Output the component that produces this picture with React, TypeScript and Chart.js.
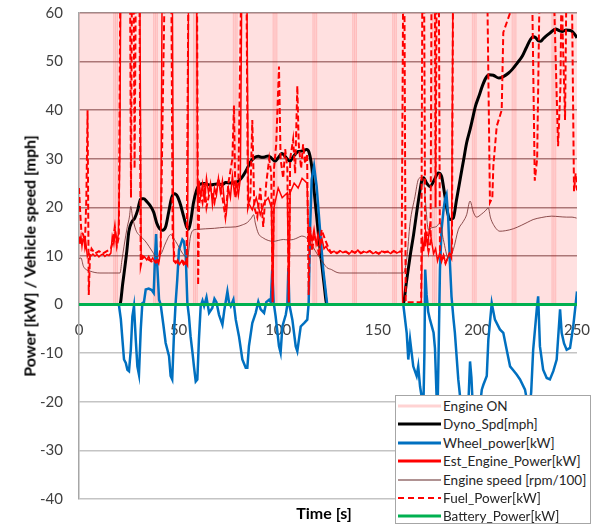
import React, { useEffect, useRef } from "react";
import { Chart, registerables } from "chart.js";

Chart.register(...registerables);

// Engine state blocks (20 s buckets), value = top of the plot when the engine runs
const engineOnTime = [8.4, 28.4, 48.4, 68.4, 88.4, 108.4, 128.4, 148.4, 168.4, 188.4, 208.4, 228.4, 248.4];
const engineOn = [60, 60, 60, 60, 60, 60, 60, 60, 60, 60, 60, 60, 60];

// [time s, mph]
const dynoSpd: [number, number][] = [
  [0, 0], [20.5, 0], [22, 4.5], [24, 11], [25, 15], [26.5, 17], [28, 17.8], [29.5, 19.5], [31, 21.8], [32.5, 21.8],
  [34, 21.2], [36, 20.2], [37.5, 19], [39, 16.8], [40.5, 15.6], [42, 15.3], [43.5, 16], [45, 19], [46.5, 22], [48, 22.8],
  [49.5, 22.2], [51, 20.5], [52.5, 18.2], [54, 16], [55, 15.5], [56, 17], [57.5, 21], [59, 23.5], [60.5, 24.7], [63, 24.9],
  [66, 24.6], [69, 24.8], [72, 24.7], [73.6, 25.1], [76, 25], [78.6, 25.1], [80.8, 25.7], [82.5, 26.6], [84.2, 27.8], [86, 29.3],
  [88, 30.2], [90, 30.5], [92, 30.3], [93.4, 30.4], [95, 30.6], [96.5, 30.2], [98.4, 29.5], [100, 30.2], [101.8, 31.1], [103.5, 30.5],
  [105.9, 29.5], [107.5, 30.4], [110, 31.5], [112, 31.6], [114.3, 31.9], [115.5, 31.3], [116.8, 28.5], [118, 23.5], [119.3, 18.2], [120.5, 13.3],
  [121.8, 8.6], [123, 4.3], [124.5, 0], [162.6, 0], [164.5, 5], [166.2, 9.9], [168, 14.5], [169.5, 18.9], [171, 23], [172.2, 25.7],
  [173, 26.1], [174.5, 25], [176.2, 24.3], [178.3, 25.6], [180.4, 27.1], [182, 26.4], [183.7, 22.3], [185, 19], [186.2, 17.5], [187.9, 17.8],
  [189.5, 21.5], [191.3, 25.7], [193, 29.6], [194.6, 33.3], [196.3, 36], [197.5, 38.1], [199, 40.8], [200.8, 42.9], [202.5, 45], [204.2, 46.6],
  [205.8, 47.3], [208, 47.2], [210.8, 46.6], [213.4, 47], [215.5, 47.6], [217.5, 48.4], [220, 49.7], [222.5, 51.1], [224.5, 52.8], [226.7, 54.6],
  [228, 55.1], [229.3, 54.9], [230.5, 54.3], [231.8, 54.2], [233, 54.7], [234.3, 55.2], [236.5, 55.9], [239.3, 56.7], [241, 56.4], [242.6, 56.2],
  [244.5, 56.5], [246.8, 56.4], [248.5, 55.8], [250, 54.9],
];

// [time s, kW]
const wheelPower: [number, number][] = [
  [0, 0], [20, 0], [21, -3], [21.8, -7.2], [22.6, -11.3], [23.5, -12], [24.3, -13.4], [25.1, -13.7], [26, -9.3], [26.8, -2.4],
  [27.6, -0.3], [28.5, -7.2], [29.3, -12.7], [30.1, -14.4], [31, -5.1], [31.8, 0.3], [32.6, 0.5], [33.5, 3.1], [35, 3.3], [36.5, 3],
  [37.5, 2.4], [38.2, 10], [38.7, 14.5], [39.3, 8], [40.2, 1], [41, 0], [42.3, -4], [43.5, -7.9], [45.2, -10.6], [46, -14.7],
  [46.8, -15.4], [47.7, -5.8], [48.5, 0.3], [49.3, 5], [50.2, 11.3], [51.9, 13.4], [52.7, 13], [53.6, 9.9], [54.4, 0.3], [55.2, -2.4],
  [56, -6.5], [57, -10], [57.7, -12.7], [58.6, -15.8], [59.4, -15.4], [60.2, -7.2], [61.1, -0.3], [62, 0.8], [62.8, -0.3], [64, 1.5],
  [65.3, -1.7], [66.9, -0.7], [68, 1.2], [69, 0.5], [70.3, -2.1], [72, -4.1], [73, -1], [74.5, 2.7], [75.3, 0.5], [76.2, -0.3],
  [77.5, 1], [78.7, -3.1], [80.3, -6.5], [82, -11.3], [83.7, -13], [84.5, -13], [85.3, -8.6], [87, -3.8], [88.7, -1.7], [90, 0.6],
  [91.2, -1], [92.9, -1.7], [94, 0.5], [95.4, 1], [96.3, 0.5], [97, 7.2], [97.7, 0.5], [98.7, -2.4], [100.4, -8.6], [101.2, -9.9],
  [102.1, -4.5], [103.8, -2.1], [104.6, 0], [105.1, 7.5], [105.6, 0], [107.1, -3.1], [108.8, -8.6], [109.6, -9.6], [111.3, -4.5], [113, -3.8],
  [114.6, -3.1], [115.3, 0.3], [116, 15.4], [116.8, 25.7], [118, 28.5], [119.3, 24.3], [121, 15.4], [122.6, 7.2], [124.6, 0], [162.8, 0],
  [164.5, -5.8], [165.3, -11.3], [166.2, -7.2], [167.8, -12.7], [169.5, -14.7], [170.3, -12.7], [171.2, -16.8], [172, -18.9], [172.8, -23], [173.4, -10],
  [173.8, 7.2], [174.5, 2], [175.3, -1.5], [176.2, -3.1], [178, -5.8], [178.7, -9], [179.5, -18.9], [180, -22], [180.6, -8], [181.2, 7.2],
  [182, 15.4], [183, 19.5], [183.7, 21.6], [184.5, 22.6], [185.3, 18.2], [186.2, 8.6], [187, 1.7], [188, -3], [188.7, -5.8], [190.4, -15.4],
  [191.3, -18.9], [192.5, -23], [194, -25], [195.5, -20], [196.3, -11.7], [197, -15], [197.8, -22], [199.5, -26], [201, -22], [202.2, -17.5],
  [203, -16.5], [204.7, -14.7], [205.5, -7.2], [207.2, 0.3], [208.8, -3.1], [211.3, -5.1], [213, -5.8], [214.7, -9.3], [216.4, -12.7], [218, -13.5],
  [219.7, -14.4], [221.4, -15.4], [223.9, -17.5], [225, -20], [226, -22], [227, -18], [228, -9.3], [229.8, -1], [230.5, 1.7], [231.4, -8.6],
  [233, -13.4], [234.8, -15.1], [236.4, -15.4], [238.1, -13.7], [239.8, -11.3], [241, -4], [241.5, -1], [242.3, -5.8], [243.5, -8], [244.8, -9.3],
  [246.5, -8.9], [248.1, -4.5], [249.3, 0], [250, 2.7],
];

// [time s, kW]
const estEnginePower: [number, number][] = [
  [0, 14], [0.5, 12.5], [1, 14], [1.5, 12], [2, 13.5], [2.5, 13.4], [3, 11.5], [3.5, 12.5], [4.2, 9.9], [5, 10.5],
  [6, 10], [7, 10.4], [8, 10], [9, 10.3], [10, 9.8], [11, 10.2], [12, 10.4], [13, 9.9], [14, 10.3], [15, 10.1],
  [16, 10.6], [16.7, 14], [17.5, 12.5], [18.2, 15], [19, 13], [19.8, 14.5], [20.5, 30], [21, 70], [30.5, 70], [31.2, 10],
  [32, 9.5], [33, 9.8], [34, 9.2], [35, 9.9], [36, 9], [37, 9.6], [38, 8.8], [39, 9.2], [40, 8.4], [41, 11],
  [41.8, 70], [46.8, 70], [47.5, 9], [48.5, 8.5], [49.5, 9.2], [50.5, 8.3], [51.5, 9], [52.5, 8.2], [53.5, 8.8], [54.5, 8],
  [55, 70], [59, 70], [59.6, 20], [60.3, 25.5], [61, 22], [62, 24.8], [63, 21], [64, 26], [65, 23], [66, 25],
  [67, 20.5], [68, 24], [69, 22.5], [70, 26], [71, 23], [72, 25.5], [73, 21], [74, 19], [75, 24], [76, 22],
  [77, 26.5], [78, 23], [79, 25], [80, 22.5], [81, 26], [81.8, 70], [84.2, 70], [85, 21], [87, 19.5], [89, 22],
  [91, 18.5], [93, 21], [95, 22], [96.6, 20], [97.2, 0.5], [97.9, 20], [100, 24], [102, 22], [104.6, 23], [105.3, 0.5],
  [106, 23], [108, 25], [110, 24], [112, 26], [114.5, 25], [115.3, 12], [116.2, 15],
  [117, 13], [118, 15.5], [119, 12.5], [120, 14.5], [121, 12], [122, 13.5], [123, 11.5], [124, 12], [125, 11.2], [126.5, 10.6],
  [128, 11], [129.5, 10.5], [131, 11.1], [132.5, 10.7], [134, 10.9], [135.5, 10.4], [137, 11], [138.5, 10.6], [140, 11.2], [141.5, 10.5],
  [143, 10.9], [144.5, 10.7], [146, 11.1], [147.5, 10.5], [149, 10.8], [150.5, 10.4], [152, 11], [153.5, 10.7], [155, 10.9], [156.5, 10.5],
  [158, 11.1], [159.5, 10.6], [161, 10.9], [162, 10.8], [162.5, 0], [171.8, 0], [172.4, 14], [173, 11], [174, 15], [175, 12],
  [176, 16], [177, 13], [178, 10.5], [179, 11.5], [180, 9], [181, 10.5], [182, 8.8], [183, 10.2], [184, 8.5], [185, 9.6],
  [186, 10.5], [187, 9.5], [187.8, 70], [250, 70],
];

// [time s, rpm/100]
const engineSpeed: [number, number][] = [
  [0, 9.5], [1, 9.6], [2.2, 7.9], [4, 7.1], [5.5, 6.9], [8, 6.6], [10.5, 6.5], [15, 6.5], [20.6, 6.5], [21.5, 9],
  [22.6, 12], [24.3, 16.1], [25.3, 18], [26, 20.2], [26.8, 18.2], [28.5, 15.4], [31, 14], [33, 13.2], [35.1, 12], [37, 10.8],
  [38.5, 9.9], [41, 10.3], [43.5, 12.7], [46, 14.4], [48.5, 13], [50.5, 11.6], [51.9, 10.6], [54.4, 9.6], [56, 14.1], [57.7, 15.4],
  [60, 15.5], [63.6, 15.6], [68, 15.7], [73, 15.9], [78.7, 16], [82, 16.4], [84.5, 16.9], [86.5, 17.8], [87.7, 18.5], [88.5, 16.8],
  [90, 14.7], [92.5, 13.7], [95, 13.2], [97.5, 13], [100, 13.2], [102.6, 13.4], [105, 13.3], [107.6, 13.4], [110, 13.8], [111.8, 14.1],
  [114.3, 13.7], [116.8, 12.3], [119.3, 10.6], [122.6, 8.6], [124.5, 7.6], [126.8, 7.2], [129, 6.7], [131, 6.5], [150, 6.5], [162.8, 6.5],
  [164.5, 9.3], [166.2, 16.8], [168.7, 22.3], [170.3, 25.7], [171.5, 26.1], [172.8, 26], [173.7, 22.3], [175.4, 15.4], [177, 15.8], [179.6, 16.1],
  [181.2, 16.8], [182.9, 13.4], [185.4, 9.6], [187.9, 11.3], [190.4, 15.4], [192.9, 17.1], [194.6, 18.5], [196.3, 21.3], [198, 19], [199.6, 18],
  [202, 18.6], [204, 19.3], [205.5, 19.9], [206.5, 18], [208, 16.5], [211.3, 15.1], [214, 15.2], [218, 15.6], [222, 16.3], [225, 16.9],
  [228, 17.5], [232, 17.9], [237.3, 18.2], [241, 18.1], [244.8, 18], [247.5, 18], [249.8, 17.8],
];

// [time s, kW]
const fuelPower: [number, number][] = [
  [0, 24], [0.6, 19], [1.2, 15], [2, 14.5], [3, 13], [3.7, 22], [4.3, 40], [4.9, 2], [5.5, 10], [6.3, 11.5],
  [8, 10.5], [10, 11], [12, 10.5], [14, 11], [16, 11.5], [17, 13], [18, 16], [19, 12], [20, 14], [20.8, 70],
  [25.6, 70], [26.1, 22], [26.6, 70], [27.4, 70], [27.9, 28], [28.6, 70], [30.3, 70], [31, 8], [32, 10], [34, 9.5],
  [36, 9], [38, 8.5], [40, 9], [41, 12], [42.2, 45], [43.2, 70], [46.3, 70], [47, 15], [48, 9], [50, 8.5],
  [52, 9], [54, 8], [55, 70], [59.2, 70], [59.8, 4], [60.4, 24], [62, 21], [63, 25], [64, 20], [66, 24],
  [68, 21], [70, 26], [72, 22], [73.5, 18], [75, 25], [77, 30], [77.8, 41], [78.5, 22], [80, 25], [81.6, 70],
  [84, 70], [84.8, 20], [86, 22], [87, 38], [88, 20], [89.5, 18], [91, 24], [92.5, 16], [94, 25], [95.5, 30],
  [96.5, 27], [97.2, 0.5], [97.9, 28], [99, 33], [100.4, 49], [101.2, 30], [102.5, 26], [103.5, 32], [104.6, 28], [105.3, 0.5],
  [106, 30], [107.5, 34], [108.5, 27], [109.6, 45], [110.3, 33], [111.5, 28], [112.5, 33], [113.5, 29], [114.5, 31], [115.3, 2],
  [116, 16], [117, 11], [118, 14], [119.3, 13.4], [120.5, 10], [121.8, 15.4], [123.5, 13.4], [125.2, 11.7], [126.5, 10.7], [128, 11],
  [129.5, 10.6], [131, 11], [132.5, 10.8], [134, 10.9], [135.5, 10.5], [137, 11], [138.5, 10.7], [140, 11.1], [141.5, 10.6], [143, 10.9],
  [144.5, 10.8], [146, 11], [147.5, 10.6], [149, 10.8], [150.5, 10.5], [152, 11], [153.5, 10.8], [155, 10.9], [156.5, 10.6], [158, 11],
  [159.5, 10.7], [161, 10.9], [162, 11], [162.8, 70], [163.3, 70], [164, 0.5], [171.8, 0.5], [172.4, 70], [173.2, 70], [173.8, 12],
  [174.5, 15], [175.5, 11], [176.5, 13], [177, 70], [178.6, 70], [179, 20], [179.6, 70], [180.6, 70], [181.2, 11], [182, 9],
  [183, 10], [184, 8.5], [185, 9.5], [186, 10.5], [187.2, 10], [187.8, 70], [204.8, 70], [206.3, 21], [207.5, 22], [208, 28.5],
  [209.7, 36.7], [212.2, 40], [213, 56], [216.4, 60], [217, 70], [227.3, 70], [228.8, 25.5], [230, 30], [231.4, 70], [238, 70],
  [240.5, 32.6], [241.7, 45], [242.3, 70], [242.8, 56], [244, 38], [244.8, 70], [247.3, 70], [248.5, 23.3], [249.3, 27], [250, 23.5],
];

// [time s, kW]
const batteryPower: [number, number][] = [[0, 0], [250, 0]];

const FONT = "Lato, 'Open Sans', sans-serif";

const toPoints = (rows: [number, number][]) => rows.map(([x, y]) => ({ x, y }));

const legendItems = [
  { label: "Engine ON", color: "#ffd3d3", width: 3, dash: "" },
  { label: "Dyno_Spd[mph]", color: "#000000", width: 3, dash: "" },
  { label: "Wheel_power[kW]", color: "#0070c0", width: 3, dash: "" },
  { label: "Est_Engine_Power[kW]", color: "#ff0000", width: 3, dash: "" },
  { label: "Engine speed [rpm/100]", color: "#b09292", width: 2, dash: "" },
  { label: "Fuel_Power[kW]", color: "#ff0000", width: 2, dash: "6 4" },
  { label: "Battery_Power[kW]", color: "#00b050", width: 3, dash: "" },
];

export default function App() {
  const canvasRef = useRef<HTMLCanvasElement | null>(null);

  useEffect(() => {
    const canvas = canvasRef.current;
    if (!canvas) return;
    const chart = new Chart(canvas, {
      type: "line",
      data: {
        datasets: [
          {
            type: "bar",
            label: "Engine ON",
            data: engineOnTime.map((x, i) => ({ x, y: engineOn[i] })),
            backgroundColor: "rgba(255,0,0,0.12)",
            borderColor: "rgba(255,0,0,0.2)",
            borderWidth: { left: 2, right: 2, top: 0, bottom: 0 },
            borderSkipped: false,
            barPercentage: 1,
            categoryPercentage: 1,
            order: 7,
          } as any,
          {
            label: "Dyno_Spd[mph]",
            data: toPoints(dynoSpd),
            borderColor: "#000000",
            borderWidth: 3,
            cubicInterpolationMode: "monotone",
            order: 6,
          },
          {
            label: "Wheel_power[kW]",
            data: toPoints(wheelPower),
            borderColor: "#0070c0",
            borderWidth: 2.5,
            order: 5,
          },
          {
            label: "Est_Engine_Power[kW]",
            data: toPoints(estEnginePower),
            borderColor: "#ff0000",
            borderWidth: 1.5,
            order: 4,
          },
          {
            label: "Engine speed [rpm/100]",
            data: toPoints(engineSpeed),
            borderColor: "rgba(120,50,50,0.85)",
            borderWidth: 1,
            cubicInterpolationMode: "monotone",
            order: 3,
          },
          {
            label: "Fuel_Power[kW]",
            data: toPoints(fuelPower),
            borderColor: "#ff0000",
            borderWidth: 2,
            borderDash: [6, 3],
            order: 2,
          },
          {
            label: "Battery_Power[kW]",
            data: toPoints(batteryPower),
            borderColor: "#00b050",
            borderWidth: 3,
            order: 1,
          },
        ],
      },
      options: {
        responsive: false,
        animation: false,
        layout: { padding: { left: 0, right: 17, top: 13, bottom: 26 } },
        elements: { point: { radius: 0 }, line: { tension: 0 } },
        plugins: { legend: { display: false }, tooltip: { enabled: false } },
        scales: {
          x: {
            type: "linear",
            position: { y: 0 } as any,
            min: 0,
            max: 250,
            offset: false,
            ticks: {
              stepSize: 50,
              padding: 1,
              maxRotation: 0,
              color: "#404040",
              font: { family: FONT, size: 15 },
            },
            grid: { display: false, drawTicks: true, tickLength: 16, tickColor: "rgba(0,0,0,0)" },
            border: { display: false },
          },
          y: {
            type: "linear",
            min: -40,
            max: 60,
            ticks: {
              stepSize: 10,
              padding: 2,
              color: "#404040",
              font: { family: FONT, size: 15 },
            },
            grid: {
              drawTicks: true,
              tickLength: 14,
              tickColor: "rgba(0,0,0,0)",
              lineWidth: 1.5,
              color: (ctx: any) => (ctx.tick && ctx.tick.value > 0 ? "#a08888" : "#c4c4c4"),
            },
            border: { display: true, color: "#a6a6a6", width: 1.5 },
            afterFit: (scale: any) => {
              scale.width = 79;
            },
          },
        },
      },
    });
    return () => chart.destroy();
  }, []);

  return (
    <div style={{ position: "absolute", left: 0, top: 0, width: 594, height: 525, background: "#fff", fontFamily: FONT }}>
      <canvas ref={canvasRef} width={594} height={525} style={{ display: "block" }} />
      <div
        style={{
          position: "absolute",
          left: 29,
          top: 256,
          transform: "translate(-50%, -50%) rotate(-90deg)",
          whiteSpace: "nowrap",
          fontWeight: 700,
          fontSize: 16,
          color: "#000",
        }}
      >
        Power [kW] / Vehicle speed [mph]
      </div>
      <div
        style={{
          position: "absolute",
          left: 324,
          top: 512,
          transform: "translate(-50%, -50%)",
          whiteSpace: "nowrap",
          fontWeight: 700,
          fontSize: 16,
          color: "#000",
        }}
      >
        Time [s]
      </div>
      <div
        style={{
          position: "absolute",
          left: 395,
          top: 395,
          width: 196,
          height: 129,
          boxSizing: "border-box",
          background: "#fff",
          border: "1px solid #a6a6a6",
        }}
      >
        {legendItems.map((item, i) => (
          <div
            key={item.label}
            style={{
              position: "absolute",
              left: 1,
              top: 10 + i * 18.4 - 9,
              height: 18,
              display: "flex",
              alignItems: "center",
              whiteSpace: "nowrap",
              fontSize: 13.5,
              color: "#262626",
            }}
          >
            <svg width={45} height={18} style={{ display: "block" }}>
              <line
                x1={1}
                y1={9}
                x2={44}
                y2={9}
                stroke={item.color}
                strokeWidth={item.width}
                strokeDasharray={item.dash || undefined}
              />
            </svg>
            <span style={{ marginLeft: 1 }}>{item.label}</span>
          </div>
        ))}
      </div>
    </div>
  );
}
